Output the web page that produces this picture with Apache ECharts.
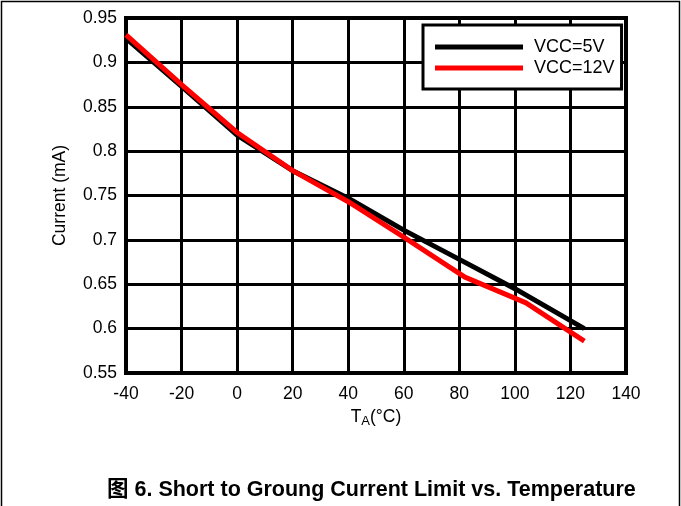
<!DOCTYPE html>
<html><head><meta charset="utf-8">
<script src="https://cdn.jsdelivr.net/npm/echarts@6/dist/echarts.min.js"></script>
<style>html,body{margin:0;padding:0;background:#fff}#c{width:681px;height:506px}</style>
</head><body><div id="c"></div>
<script>
var seriesNames = ['VCC=5V', 'VCC=12V'];
var tempVcc5 = [-40, -20, 0, 20, 40, 60, 80, 100, 125];
var currVcc5 = [0.927, 0.873, 0.818, 0.778, 0.747, 0.711, 0.678, 0.645, 0.600];
var tempVcc12 = [-40, -20, 0, 20, 40, 60, 82, 104, 125];
var currVcc12 = [0.931, 0.875, 0.821, 0.778, 0.743, 0.703, 0.658, 0.629, 0.586];
var xTicks = [-40, 140, 20];
var yTicks = [0.55, 0.95, 0.05];
var caption = '图 6. Short to Groung Current Limit vs. Temperature';

function pairs(xs, ys){ return xs.map(function(x,i){ return [x, ys[i]]; }); }
var font = 'Arial, "Liberation Sans", sans-serif';
var chart = echarts.init(document.getElementById('c'), null, {renderer:'canvas'});
chart.setOption({
  animation: false,
  backgroundColor: '#fff',
  grid: {left: 126, right: 55, top: 18, bottom: 133, show: true, borderColor: '#000', borderWidth: 4, z: 3},
  legend: {
    left: 423, top: 25, orient: 'vertical',
    data: seriesNames.map(function(n){ return {name: n, icon: 'rect'}; }),
    itemWidth: 88, itemHeight: 5, itemGap: 3,
    backgroundColor: '#fff', borderColor: '#000', borderWidth: 3,
    padding: [13, 7, 12, 12],
    textStyle: {fontFamily: font, fontSize: 18, color: '#000', padding: [0,0,0,6], lineHeight: 18}
  },
  xAxis: {
    type: 'value', min: xTicks[0], max: xTicks[1], interval: xTicks[2],
    name: '{t|T}{s|A}{t|(°C)}', nameLocation: 'middle', nameGap: 32,
    nameTextStyle: {rich: {t: {fontFamily: font, fontSize: 17.5, color: '#000'}, s: {fontFamily: font, fontSize: 13, color: '#000', verticalAlign: 'bottom', padding:[9,0,0,0]}}},
    axisLine: {show: false}, axisTick: {show: false},
    axisLabel: {fontFamily: font, fontSize: 17.5, color: '#000', margin: 12},
    splitLine: {show: true, lineStyle: {color: '#000', width: 3}}
  },
  yAxis: {
    type: 'value', min: yTicks[0], max: yTicks[1], interval: yTicks[2],
    name: 'Current (mA)', nameLocation: 'middle', nameGap: 57, nameRotate: 90,
    nameTextStyle: {fontFamily: font, fontSize: 17.5, color: '#000'},
    axisLine: {show: false}, axisTick: {show: false},
    axisLabel: {fontFamily: font, fontSize: 17.5, color: '#000', margin: 9,
      formatter: function(v){ return String(parseFloat(v.toFixed(2))); }},
    splitLine: {show: true, lineStyle: {color: '#000', width: 3}}
  },
  series: [
    {name: seriesNames[0], type: 'line', data: pairs(tempVcc5, currVcc5), showSymbol: false, symbol: 'none',
     lineStyle: {color: '#000', width: 5}, itemStyle: {color: '#000'}, z: 4},
    {name: seriesNames[1], type: 'line', data: pairs(tempVcc12, currVcc12), showSymbol: false, symbol: 'none',
     lineStyle: {color: '#ff0000', width: 5}, itemStyle: {color: '#ff0000'}, z: 5}
  ],
  graphic: [
    {type: 'polyline', shape: {points: [[1.5, 506], [1.5, 1.5], [679.5, 1.5], [679.5, 506]]}, style: {stroke: '#000', lineWidth: 1.5, fill: null}},
    {type: 'text', left: 107, top: 479, style: {text: caption, font: 'bold 21.5px Arial, "Liberation Sans", "Noto Sans CJK SC", sans-serif', fill: '#000'}}
  ]
});
</script></body></html>
